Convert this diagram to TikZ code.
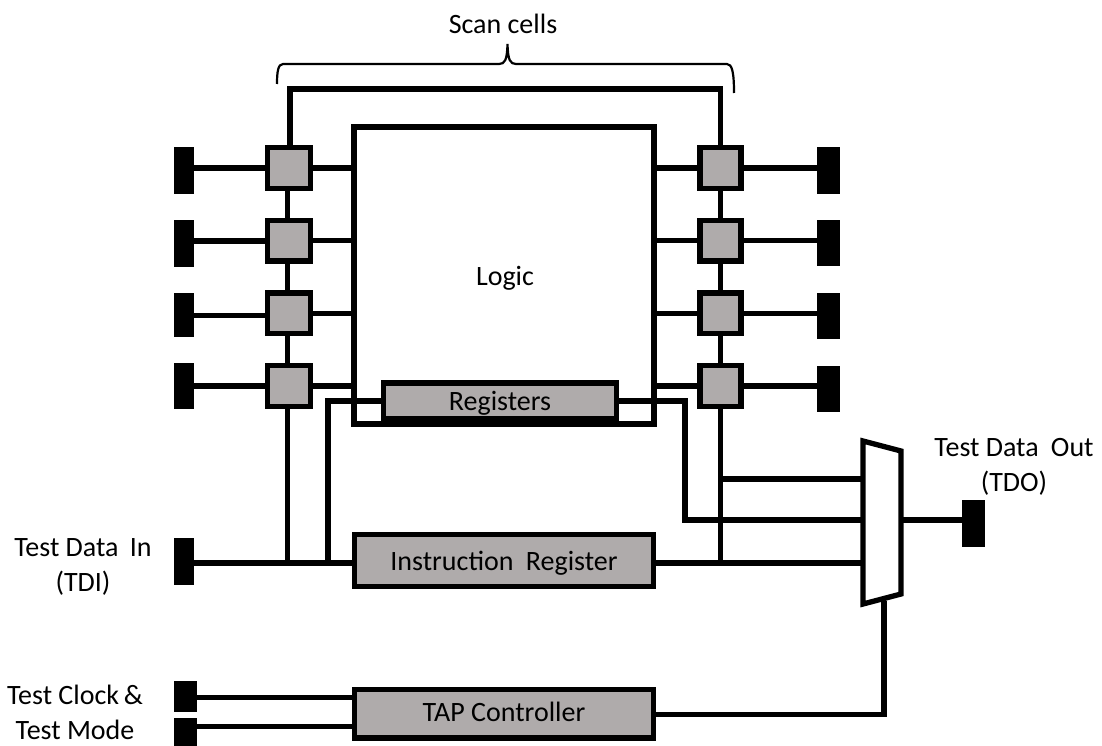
\documentclass[tikz,border=0pt]{standalone}
\usepackage{fontspec}
\setmainfont{Carlito}
\usetikzlibrary{positioning,calc}
\definecolor{cellgray}{HTML}{AFABAB}
\tikzset{
    wire/.style={line width=5.3pt, line join=miter},
    cellbox/.style={draw, line width=5.5pt, fill=cellgray, minimum width=43pt, minimum height=40.7pt, inner sep=0pt},
    blockbox/.style={draw, line width=5.5pt, fill=cellgray, inner sep=0pt},
    pad/.style={fill=black, minimum width=20pt, minimum height=47pt, inner sep=0pt, outer sep=0pt},
    textlabel/.style={font=\fontsize{28}{35}\selectfont, align=center, inner sep=0pt}
}
\begin{document}
\begin{tikzpicture}[x=1pt, y=-1pt]
    \useasboundingbox (0,0) rectangle (1102,746);

    % Logic block
    \node[draw, line width=5.5pt, minimum width=300pt, minimum height=297pt, inner sep=0pt] (logic) at (504,275.5) {};
    \node[textlabel] (logictext) at (505,278) {Logic};

    % Scan cells and pads
    \foreach \i/\y/\wy/\pl/\ph/\pr in {1/168/168/170.5/47/170.5, 2/240.7/241/243.5/47/243.3, 3/313.3/315.5/315/43.5/316, 4/386/386/386/46.5/389} {
        \node[cellbox] (cellL\i) at (289,\y) {};
        \node[cellbox, minimum width=41pt] (cellR\i) at (720.5,\y) {};
        \node[pad, minimum height=\ph pt] (padL\i) at (184,\pl) {};
        \node[pad, minimum width=23pt, minimum height=46.3pt] (padR\i) at (828.5,\pr) {};
        \draw[wire] (cellL\i.west |- 0,\wy) -- (padL\i.east |- 0,\wy);
        \draw[wire] (cellL\i.east) -- (cellL\i.east -| logic.west);
        \draw[wire] (cellR\i.east) -- (cellR\i.east -| padR\i.west);
        \draw[wire] (cellR\i.west) -- (cellR\i.west -| logic.east);
    }
    \foreach \i/\j in {1/2, 2/3, 3/4} {
        \draw[wire] (cellL\i.south -| 287.7,0) -- (cellL\j.north -| 287.7,0);
        \draw[wire] (cellR\i.south) -- (cellR\j.north);
    }

    % Blocks
    \node[blockbox, textlabel, text height=24.4pt, text depth=5pt, minimum width=233pt, minimum height=36pt] (reg) at (500,401) {Registers};
    \node[blockbox, textlabel, text height=24pt, text depth=5pt, minimum width=299pt, minimum height=52pt] (ir) at (504,560.5) {Instruction\hspace{6pt} Register};
    \node[blockbox, textlabel, text height=18pt, text depth=2pt, minimum width=299pt, minimum height=48.5pt] (tap) at (504,713.7) {TAP Controller};

    % Mux
    \coordinate (muxtl) at (863,441);
    \coordinate (muxtr) at (901,451);
    \coordinate (muxbr) at (901,594);
    \coordinate (muxbl) at (863,604);
    \draw[wire] (muxtl) -- (muxtr) -- (muxbr) -- (muxbl) -- cycle;

    % Outer pads
    \node[pad] (tdi) at (184,561) {};
    \node[pad, minimum width=23pt] (tdo) at (973.5,523) {};
    \node[pad, minimum width=23pt, minimum height=31.5pt] (tck) at (185.7,696.5) {};
    \node[pad, minimum width=23pt, minimum height=28pt] (tms) at (185.7,732) {};

    % Top loop
    \coordinate (looptop) at (504,89);
    \draw[wire] (cellL1.north -| 290,0) |- (looptop) -| (cellR1.north);

    % Scan path and test data wires
    \coordinate (tdiline) at (0,563);
    \draw[wire] (tdi.east |- tdiline) -- (ir.west |- tdiline);
    \draw[wire] (ir.east |- tdiline) -- (muxtl |- tdiline);
    \draw[wire] (cellL4.south -| 287.7,0) -- (287.7,563);
    \draw[wire] (cellR4.south) -- (cellR4 |- tdiline);
    \draw[wire] (cellR4 |- 0,479) -- (muxtl |- 0,479);
    \draw[wire] (reg.west |- 0,401) -| (328,563);
    \draw[wire] (reg.east |- 0,401) -| (685,520) -- (muxtl |- 0,520);
    \draw[wire] (muxtr |- 0,520) -- (tdo.west |- 0,520);

    % TAP wires
    \draw[wire] (tck.east |- 0,697.7) -- (tap.west |- 0,697.7);
    \draw[wire] (tms.east |- 0,726.7) -- (tap.west |- 0,726.7);
    \draw[wire] (tap.east |- 0,714.3) -| (884,601);

    % Brace
    \draw[line width=2.2pt] (277,84) .. controls (277,72) and (278,64) .. (283,64) -- (499,64)
        .. controls (505,64) and (507,60) .. (507.5,44) .. controls (508,60) and (510,64) .. (516,64)
        -- (727,64) .. controls (732,64) and (734,72) .. (734,93);

    % Labels
    \node[textlabel] (scan) at (503,24) {Scan cells};
    \node[textlabel] (tditext) at (83,567) {Test Data\hspace{5pt} In\\(TDI)};
    \node[textlabel] (tdotext) at (1014,466.5) {Test Data\hspace{6pt} Out\\(TDO)};
    \node[textlabel] (tcktext) at (75,712) {Test Clock\,\&\\Test Mode};
\end{tikzpicture}
\end{document}
